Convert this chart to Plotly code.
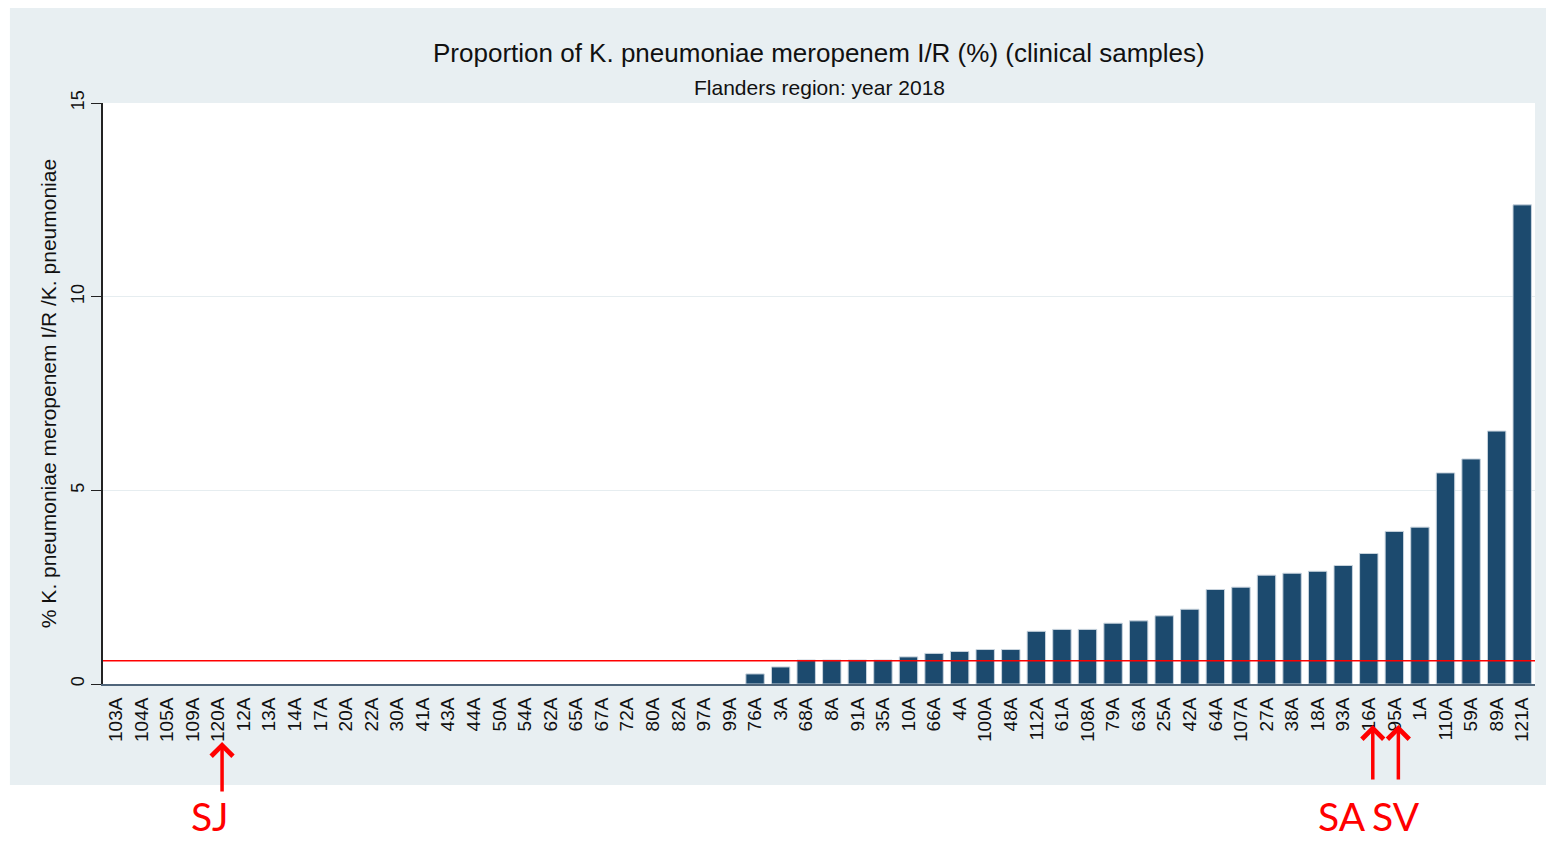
import plotly.graph_objects as go

# hospitals, sorted by proportion
hospitals = ['103A', '104A', '105A', '109A', '120A', '12A', '13A', '14A', '17A', '20A',
             '22A', '30A', '41A', '43A', '44A', '50A', '54A', '62A', '65A', '67A',
             '72A', '80A', '82A', '97A', '99A', '76A', '3A', '68A', '8A', '91A',
             '35A', '10A', '66A', '4A', '100A', '48A', '112A', '61A', '108A', '79A',
             '63A', '25A', '42A', '64A', '107A', '27A', '38A', '18A', '93A', '16A',
             '95A', '1A', '110A', '59A', '89A', '121A']
pct_ir = [0] * 25 + [0.26, 0.44, 0.62, 0.62, 0.62,
                     0.62, 0.70, 0.79, 0.84, 0.89, 0.89, 1.36, 1.41, 1.41, 1.57,
                     1.63, 1.76, 1.93, 2.44, 2.50, 2.81, 2.86, 2.91, 3.06, 3.37,
                     3.94, 4.05, 5.45, 5.81, 6.53, 12.37]
region_mean = 0.6
y_ticks = [0, 5, 10, 15]

# marked hospitals: label, hospital, label x (paper), arrow tip y (paper), arrow length px
marks = [('SJ', '120A', 0.0747, -0.0998, 51),
         ('SA', '16A', 0.8652, -0.0706, 56),
         ('SV', '95A', 0.9030, -0.0706, 56)]

fig = go.Figure()
fig.add_trace(go.Bar(x=hospitals, y=pct_ir, marker_color='#1C4A6E',
                     marker_line=dict(color='#C9D4DE',
                                      width=[1 if v > 0 else 0 for v in pct_ir]),
                     showlegend=False))

# the page body has an 8px margin, so the figure is a little smaller than the window
fig.update_layout(
    width=1546, height=833,
    margin=dict(l=95, r=19, t=95, b=157),
    paper_bgcolor='white', plot_bgcolor='rgba(0,0,0,0)',
    bargap=0.28,
    font=dict(family='Liberation Sans, Arial', color='#111'),
)

fig.update_xaxes(type='category', tickangle=-90, tickfont=dict(size=19),
                 showline=True, linecolor='#4F657A', linewidth=2,
                 ticks='outside', ticklen=4, tickcolor='rgba(0,0,0,0)',
                 showgrid=False, range=[-0.5, len(hospitals) - 0.5])
fig.update_yaxes(range=[0, 15], tickvals=y_ticks, tickangle=-90, tickfont=dict(size=18),
                 showline=True, linecolor='#222', linewidth=1.5,
                 ticks='outside', ticklen=10, tickcolor='#222',
                 showgrid=True, gridcolor='#E6EDF0', gridwidth=1, zeroline=False,
                 title=dict(text='% K. pneumoniae meropenem I/R /K. pneumoniae',
                            font=dict(size=21), standoff=6))

# grey frame behind the plot area, white plot region
fig.add_shape(type='rect', xref='paper', yref='paper', x0=-0.065, x1=1.02, y0=-0.1738, y1=1.2,
              fillcolor='#E8EFF2', line_width=0, layer='below')
fig.add_shape(type='rect', xref='paper', yref='paper', x0=0, x1=1, y0=0, y1=1,
              fillcolor='white', line_width=0, layer='below')

# regional mean line
fig.add_shape(type='line', xref='paper', yref='y', x0=0, x1=1, y0=region_mean, y1=region_mean,
              line=dict(color='#FF0000', width=1.5))

fig.add_annotation(text='Proportion of K. pneumoniae meropenem I/R (%) (clinical samples)',
                   xref='paper', yref='paper', x=0.5, y=1.086, yanchor='middle', showarrow=False,
                   font=dict(size=26, color='#111'))
fig.add_annotation(text='Flanders region: year 2018', xref='paper', yref='paper',
                   x=0.5, y=1.027, yanchor='middle', showarrow=False,
                   font=dict(size=21, color='#111'))

for label, hosp, tx, tip, length in marks:
    fig.add_annotation(text='', x=hosp, xref='x', y=tip, yref='paper', xshift=4,
                       showarrow=True, ax=0, ay=length, arrowhead=4, arrowsize=1.2,
                       arrowwidth=3.5, arrowcolor='#FF0000')
    fig.add_annotation(text=label, xref='paper', yref='paper', x=tx, y=-0.268,
                       xanchor='center', yanchor='bottom', showarrow=False, borderpad=0,
                       font=dict(family='Lato, Open Sans', size=39, color='#FF0000'))

fig.write_html('out.html')
